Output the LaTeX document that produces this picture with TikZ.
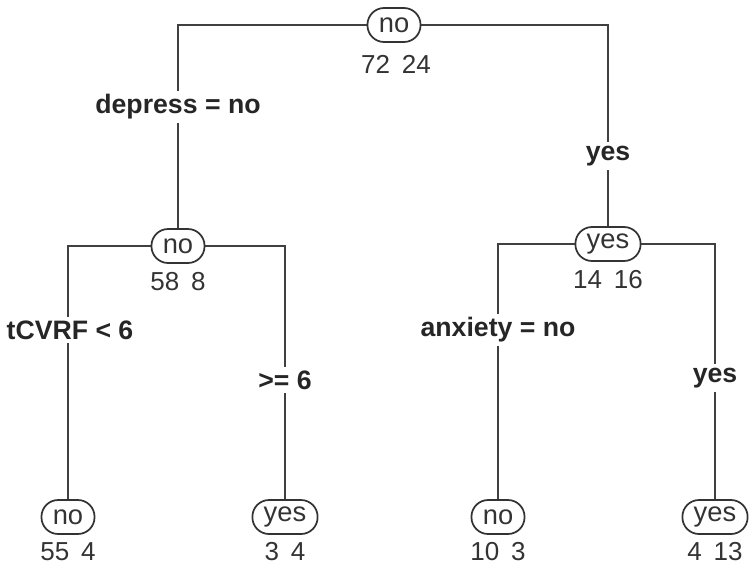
\documentclass[tikz,border=0pt]{standalone}
\usepackage{fontspec}
\setmainfont{Liberation Sans}
\begin{document}
\begin{tikzpicture}[x=0.75pt,y=-0.75pt,
  tnode/.style={draw=black!80, line width=1.3pt, rounded corners=12.5pt, minimum height=25.5pt, inner xsep=8.5pt, inner ysep=2pt, font=\fontsize{20.5}{23}\selectfont, text=black!80},
  cnt/.style={font=\fontsize{19.5}{22}\selectfont, text=black!80, inner sep=1pt},
  lbl/.style={font=\bfseries\fontsize{20}{23}\selectfont, text=black!85, fill=white, inner sep=3pt},
  edge/.style={draw=black!75, line width=1.2pt}]
\useasboundingbox (0,0) rectangle (755,572);
% nodes
\node[tnode] (r) at (394,25) {no};
\node[cnt] (cr) at (396,64) {72\hspace{0.45em}24};
\node[tnode] (a) at (178,246) {no};
\node[cnt] (ca) at (178,282) {58\hspace{0.45em}8};
\node[tnode] (b) at (608,244) {yes};
\node[cnt] (cb) at (608,280) {14\hspace{0.45em}16};
\node[tnode] (l1) at (68,517) {no};
\node[cnt] (cl1) at (68,552) {55\hspace{0.45em}4};
\node[tnode] (l2) at (285,517) {yes};
\node[cnt] (cl2) at (285,552) {3\hspace{0.45em}4};
\node[tnode] (l3) at (498,517) {no};
\node[cnt] (cl3) at (498,552) {10\hspace{0.45em}3};
\node[tnode] (l4) at (715,517) {yes};
\node[cnt] (cl4) at (715,552) {4\hspace{0.45em}13};
% edges
\draw[edge] (r.west) -| (a.north);
\draw[edge] (r.east) -| (b.north);
\draw[edge] (a.west) -| (l1.north);
\draw[edge] (a.east) -| (l2.north);
\draw[edge] (b.west) -| (l3.north);
\draw[edge] (b.east) -| (l4.north);
% split labels
\node[lbl] (s1) at (178,107) {depress = no};
\node[lbl] (s2) at (608,156) {yes};
\node[lbl] (s3) at (70,330) {tCVRF < 6};
\node[lbl] (s4) at (285,380) {>= 6};
\node[lbl] (s5) at (498,330) {anxiety = no};
\node[lbl] (s6) at (715,378) {yes};
\end{tikzpicture}
\end{document}
